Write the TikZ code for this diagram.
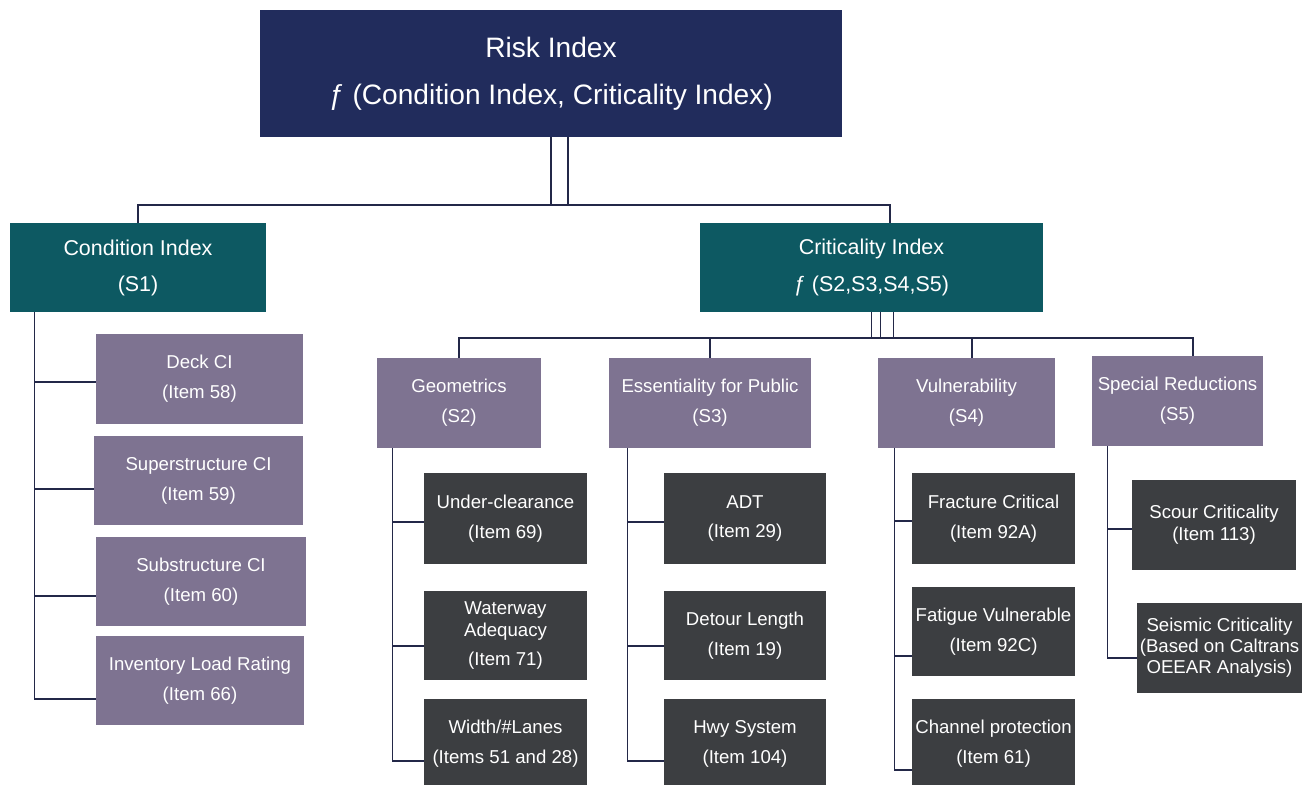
\documentclass[tikz,border=0pt]{standalone}
\usepackage{fontspec}
\setmainfont{Liberation Sans}
\definecolor{rinavy}{RGB}{33,44,92}
\definecolor{riteal}{RGB}{13,89,98}
\definecolor{ripurple}{RGB}{126,115,145}
\definecolor{ridark}{RGB}{60,62,65}
\definecolor{riline}{RGB}{35,40,72}
\usetikzlibrary{positioning,calc}

\begin{document}
\begin{tikzpicture}[x=0.02cm, y=-0.02cm,
    box/.style 2 args={inner sep=0pt, align=center, text=white,
                       minimum width=#1*0.02cm, minimum height=#2*0.02cm},
    riskbox/.style={fill=rinavy, font=\fontsize{16}{26.7}\selectfont},
    idxbox/.style={fill=riteal, font=\fontsize{12.2}{20.5}\selectfont},
    subbox/.style={fill=ripurple, font=\fontsize{10.6}{17}\selectfont},
    itembox/.style={fill=ridark, font=\fontsize{10.6}{17}\selectfont},
    link/.style={riline, line width=0.9pt}
  ]
    \useasboundingbox[fill=white] (0,0) rectangle (1313,785);

    % Top: risk index
    \node[box={582}{127}, riskbox] (risk) at (551,73.5)
      {Risk Index\\ƒ (Condition Index, Criticality Index)};

    % Level 1: condition and criticality
    \node[box={256}{89}, idxbox] (cond) at (138,267.5)
      {Condition Index\\(S1)};
    \node[box={343}{89}, idxbox] (crit) at (871.5,267.5)
      {Criticality Index\\ƒ (S2,S3,S4,S5)};

    \coordinate (topbus) at (551,205);
    \draw[link] (cond.north) |- (topbus) -| ($(crit.north)+(18.5,0)$);
    \draw[link] (risk.south) -- (topbus);
    \draw[link] ($(risk.south)+(17,0)$) -- ($(topbus)+(17,0)$);

    % Level 2: S2 to S5
    \node[box={164}{90}, subbox] (geo) at (459,403)
      {Geometrics\\(S2)};
    \node[box={202}{90}, subbox] (ess) at (710,403)
      {Essentiality for Public\\(S3)};
    \node[box={177}{90}, subbox] (vul) at (966.5,403)
      {Vulnerability\\(S4)};
    \node[box={171}{90}, subbox] (spec) at (1177.5,401)
      {Special Reductions\\(S5)};

    \coordinate (critbus) at (871.5,338);
    \draw[link] (geo.north) |- (critbus) -| ($(spec.north)+(15.5,0)$);
    \draw[link] (ess.north) -- (ess.north |- critbus);
    \draw[link] ($(vul.north)+(5.5,0)$) |- (critbus);
    \draw[link] (crit.south) -- (critbus);
    \draw[link] ($(crit.south)+(9,0)$) -- ($(critbus)+(9,0)$);
    \draw[link] ($(crit.south)+(22,0)$) -- ($(critbus)+(22,0)$);

    % S1 items
    \node[box={207}{90}, subbox] (deck) at (199.5,379)
      {Deck CI\\(Item 58)};
    \node[box={209}{89}, subbox] (super) at (198.5,480.5)
      {Superstructure CI\\(Item 59)};
    \node[box={210}{89}, subbox] (sub) at (201,581.5)
      {Substructure CI\\(Item 60)};
    \node[box={208}{89}, subbox] (inv) at (200,680.5)
      {Inventory Load Rating\\(Item 66)};
    \draw[link] ($(cond.south west)+(25,0)$) |- ($(deck.west)+(0,3)$);
    \draw[link] ($(cond.south west)+(25,0)$) |- ($(super.west)+(0,8.5)$);
    \draw[link] ($(cond.south west)+(25,0)$) |- ($(sub.west)+(0,14.5)$);
    \draw[link] ($(cond.south west)+(25,0)$) |- ($(inv.west)+(0,18.5)$);

    % S2 items
    \node[box={163}{91}, itembox] (under) at (505.5,518.5)
      {Under-clearance\\(Item 69)};
    \node[box={163}{89}, itembox] (water) at (505.5,635.5)
      {Waterway\\[-4.5pt]Adequacy\\[-0.5pt](Item 71)};
    \node[box={163}{89}, itembox] (lanes) at (505.5,743.5)
      {Width/\#Lanes\\(Items 51 and 28)};
    \draw[link] ($(geo.south west)+(16,0)$) |- ($(under.west)+(0,3.5)$);
    \draw[link] ($(geo.south west)+(16,0)$) |- ($(water.west)+(0,10.5)$);
    \draw[link] ($(geo.south west)+(16,0)$) |- ($(lanes.west)+(0,17.5)$);

    % S3 items
    \node[box={162}{91}, itembox] (adt) at (745,518.5)
      {ADT\\(Item 29)};
    \node[box={162}{89}, itembox] (detour) at (745,635.5)
      {Detour Length\\(Item 19)};
    \node[box={162}{89}, itembox] (hwy) at (745,743.5)
      {Hwy System\\(Item 104)};
    \draw[link] ($(ess.south west)+(19,0)$) |- ($(adt.west)+(0,3.5)$);
    \draw[link] ($(ess.south west)+(19,0)$) |- ($(detour.west)+(0,10.5)$);
    \draw[link] ($(ess.south west)+(19,0)$) |- ($(hwy.west)+(0,17.5)$);

    % S4 items
    \node[box={163}{91}, itembox] (frac) at (993.5,518.5)
      {Fracture Critical\\(Item 92A)};
    \node[box={163}{89}, itembox] (fat) at (993.5,631.5)
      {Fatigue Vulnerable\\(Item 92C)};
    \node[box={163}{89}, itembox] (chan) at (993.5,743.5)
      {Channel protection\\(Item 61)};
    \draw[link] ($(vul.south west)+(17,0)$) |- ($(frac.west)+(0,2.5)$);
    \draw[link] ($(vul.south west)+(17,0)$) |- ($(fat.west)+(0,24.5)$);
    \draw[link] ($(vul.south west)+(17,0)$) |- ($(chan.west)+(0,26.5)$);

    % S5 items
    \node[box={164}{90}, itembox] (scour) at (1214,525)
      {Scour Criticality\\[-4.5pt](Item 113)};
    \node[box={165}{90}, itembox] (seis) at (1219.5,648)
      {Seismic Criticality\\[-5pt](Based on Caltrans\\[-5pt]OEEAR Analysis)};
    \draw[link] ($(spec.south west)+(16,0)$) |- ($(scour.west)+(0,4)$);
    \draw[link] ($(spec.south west)+(16,0)$) |- ($(seis.west)+(0,10)$);
  \end{tikzpicture}
\end{document}
